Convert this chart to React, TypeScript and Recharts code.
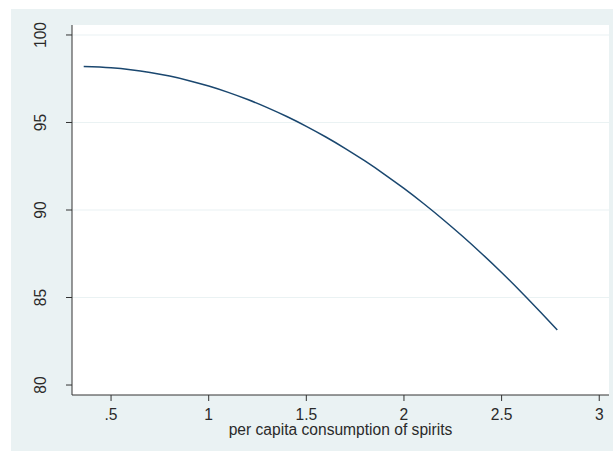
import { LineChart, Line, XAxis, YAxis, ReferenceLine, CartesianGrid } from 'recharts';

// fitted values
const spirits = [0.36, 0.5, 0.6, 0.7, 0.8, 0.9, 1.0, 1.1, 1.2, 1.3, 1.4, 1.5, 1.6, 1.7, 1.8, 1.9, 2.0, 2.1, 2.2, 2.3, 2.4, 2.5, 2.6, 2.7, 2.785];
const fitted = [98.2, 98.13, 98.02, 97.86, 97.65, 97.39, 97.08, 96.72, 96.31, 95.85, 95.34, 94.78, 94.17, 93.51, 92.8, 92.04, 91.23, 90.37, 89.46, 88.5, 87.49, 86.43, 85.32, 84.16, 83.15];

const xTicks = [0.5, 1, 1.5, 2, 2.5, 3];
const yTicks = [80, 85, 90, 95, 100];
const gridLines = [85, 90, 95, 100];

const data = spirits.map((x, i) => ({ x, y: fitted[i] }));

const FONT = '"Liberation Sans", Arial, sans-serif';
const FS = 15.6;

const fmtX = (v: number) => String(v).replace(/^0\./, '.');

function YTick(props: any) {
  const { x, y, payload } = props;
  return (
    <text
      x={x}
      y={y}
      transform={`rotate(-90 ${x} ${y})`}
      textAnchor="middle"
      fontSize={FS}
      fontFamily={FONT}
      fill="#2a2a2a"
    >
      {payload.value}
    </text>
  );
}

export default function App() {
  return (
    <div style={styles.page}>
      <div style={styles.region} />
      <div style={styles.chart}>
        <LineChart width={613} height={452} data={data} margin={{ top: 25, right: 4, bottom: 17, left: 12 }}>
          <CartesianGrid horizontal={false} vertical={false} fill="#fff" />
          {gridLines.map((g) => (
            <ReferenceLine key={g} y={g} stroke="#eaf2f3" strokeWidth={1.2} />
          ))}
          <XAxis
            dataKey="x"
            type="number"
            domain={[0.3, 3.05]}
            ticks={xTicks}
            allowDataOverflow
            tickFormatter={fmtX}
            tickSize={6}
            tickMargin={8}
            height={40}
            stroke="#333"
            tick={{ fontSize: FS, fill: '#2a2a2a', fontFamily: FONT }}
            label={{
              value: 'per capita consumption of spirits',
              position: 'insideBottom',
              offset: 0,
              fontSize: FS,
              fill: '#2a2a2a',
              fontFamily: FONT,
            }}
          />
          <YAxis
            type="number"
            domain={[79.43, 100.57]}
            ticks={yTicks}
            allowDataOverflow
            width={60}
            tickSize={6}
            tickMargin={20}
            stroke="#333"
            tick={<YTick />}
          />
          <Line
            type="monotone"
            dataKey="y"
            stroke="#1a476f"
            strokeWidth={1.5}
            dot={false}
            isAnimationActive={false}
          />
        </LineChart>
      </div>
    </div>
  );
}

const styles: Record<string, React.CSSProperties> = {
  page: {
    position: 'absolute',
    left: 0,
    top: 0,
    width: 613,
    height: 452,
    background: '#fff',
    overflow: 'hidden',
  },
  region: {
    position: 'absolute',
    left: 11,
    top: 9,
    width: 602,
    height: 442,
    background: '#eaf2f3',
  },
  chart: {
    position: 'absolute',
    left: 0,
    top: 0,
  },
};
